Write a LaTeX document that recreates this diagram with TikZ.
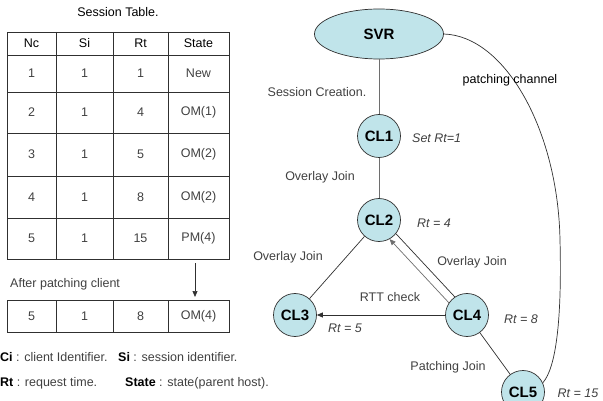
\documentclass[tikz,border=0pt]{standalone}
\usepackage{fontspec}
\setmainfont{Liberation Sans}
\usetikzlibrary{arrows.meta,shapes.geometric}
\definecolor{nodefill}{HTML}{C0E4EA}
\definecolor{edgegray}{HTML}{6E6E6E}
\definecolor{edgedark}{HTML}{303030}
\definecolor{txtgray}{HTML}{404040}
\begin{document}
\begin{tikzpicture}[x=1pt,y=-1pt,
  font=\fontsize{12.5}{15}\selectfont,
  client/.style={circle, draw=edgedark, line width=0.7pt, fill=nodefill, minimum size=43pt, inner sep=0pt, font=\fontsize{15}{18}\selectfont\bfseries},
  lbl/.style={inner sep=0pt, text=txtgray},
  rtlbl/.style={lbl, font=\fontsize{12.5}{15}\selectfont\itshape},
  cell/.style={inner sep=0pt, text=txtgray},
  hcell/.style={inner sep=0pt, text=black},
  tline/.style={draw=edgedark, line width=0.8pt},
  link/.style={draw=edgedark, line width=0.7pt},
  glink/.style={draw=edgegray, line width=0.7pt},
  arr/.style={-{Triangle[length=6pt,width=5pt]}}
]
\useasboundingbox (0,0) rectangle (603,401);

% ---- Session table ----
\node[hcell] (title) at (118,12) {Session Table.};
\draw[tline] (7,32) rectangle (229,259);
\foreach \y in {55,92,133,176,218} \draw[tline] (7,\y) -- (229,\y);
\foreach \x in {56,113,168} \draw[tline] (\x,32) -- (\x,259);

\node[hcell] (h1) at (31.5,43.5) {Nc};
\node[hcell] (h2) at (84.5,43.5) {Si};
\node[hcell] (h3) at (140.5,43.5) {Rt};
\node[hcell] (h4) at (198.5,43.5) {State};

\foreach \r/\y/\a/\b/\c/\d in {1/73.5/1/1/1/New, 2/112.5/2/1/4/OM(1), 3/154.5/3/1/5/OM(2), 4/197/4/1/8/OM(2), 5/238.5/5/1/15/PM(4)} {
  \node[cell] (r\r c1) at (31.5,\y) {\a};
  \node[cell] (r\r c2) at (84.5,\y) {\b};
  \node[cell] (r\r c3) at (140.5,\y) {\c};
  \node[cell] (r\r c4) at (198.5,\y) {\d};
}

\coordinate (a1) at (195,263);
\coordinate (a2) at (195,297);
\draw[link, arr] (a1) -- (a2);
\node[lbl, anchor=west] (after) at (10,284) {After patching client};

\draw[tline] (7,300) rectangle (229,332);
\foreach \x in {56,113,168} \draw[tline] (\x,300) -- (\x,332);
\node[cell] (p1) at (31.5,316) {5};
\node[cell] (p2) at (84.5,316) {1};
\node[cell] (p3) at (140.5,316) {8};
\node[cell] (p4) at (198.5,316) {OM(4)};

\node[lbl, anchor=west] (lg1) at (0,357) {\textbf{\color{black}Ci} : client Identifier.};
\node[lbl, anchor=west] (lg2) at (118,357) {\textbf{\color{black}Si} : session identifier.};
\node[lbl, anchor=west] (lg3) at (0,383) {\textbf{\color{black}Rt} : request time.};
\node[lbl, anchor=west] (lg4) at (125,383) {\textbf{\color{black}State} : state(parent host).};

% ---- Overlay graph ----
\node[ellipse, draw=edgedark, line width=0.7pt, fill=nodefill, minimum width=129pt, minimum height=50pt, inner sep=0pt, font=\fontsize{15}{18}\selectfont\bfseries] (SVR) at (379,34) {SVR};
\node[client] (CL1) at (379,136) {CL1};
\node[client] (CL2) at (379,220) {CL2};
\node[client] (CL3) at (295,315) {CL3};
\node[client] (CL4) at (467,315) {CL4};
\node[client] (CL5) at (523,392) {CL5};

\draw[glink] (SVR) -- (CL1);
\draw[glink] (CL1) -- (CL2);
\draw[link] (CL2) -- (CL3);
\draw[link] (CL2.-39.5) -- (CL4.124.5);
\draw[glink, arr] (CL4.146) -- (CL2.-61);
\draw[link, arr] (CL4) -- (CL3);
\draw[link] (CL4) -- (CL5);
\draw[link] (SVR.east) .. controls (505,36) and (558,130) .. (560,240)
            .. controls (562,320) and (556,368) .. (CL5.25);

\node[lbl] (lsc) at (317,92) {Session Creation.};
\node[rtlbl, anchor=west] (lrt1) at (412,138) {Set Rt=1};
\node[lbl] (loj1) at (320,177) {Overlay Join};
\node[rtlbl, anchor=west] (lrt4) at (417,223) {Rt = 4};
\node[lbl] (loj2) at (288,257) {Overlay Join};
\node[lbl] (loj3) at (472,262) {Overlay Join};
\node[lbl] (lrtt) at (390,297) {RTT check};
\node[rtlbl] (lrt5) at (345,328) {Rt = 5};
\node[rtlbl] (lrt8) at (521,319) {Rt = 8};
\node[rtlbl] (lrt15) at (578,393) {Rt = 15};
\node[lbl] (lpj) at (448,367) {Patching Join};
\node[inner sep=0pt] (lpc) at (510,80) {patching channel};
\end{tikzpicture}
\end{document}
